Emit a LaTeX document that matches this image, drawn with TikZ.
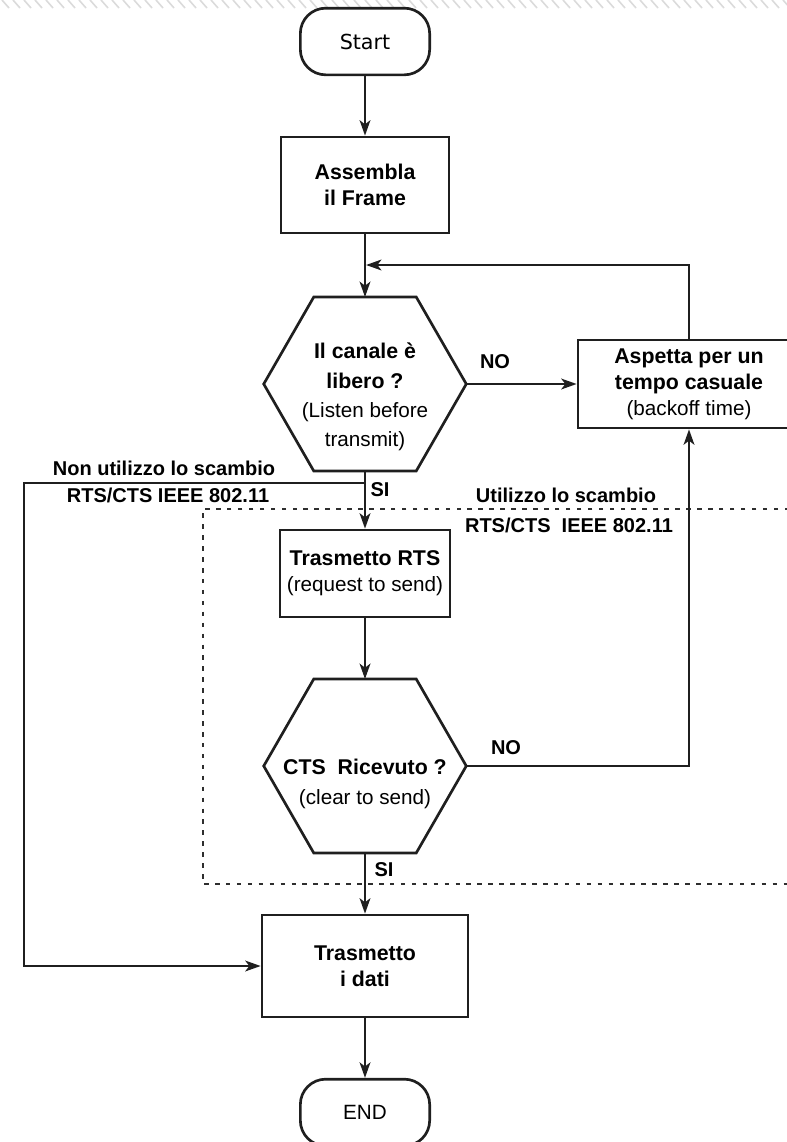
\documentclass[tikz,border=0pt]{standalone}
\usepackage{fontspec}
\setmainfont{Liberation Sans}
\newfontfamily\startfont{DejaVu Sans}
\usetikzlibrary{arrows.meta,calc}
\newcommand\subtxt[1]{{\mdseries\fontsize{15.5}{20}\selectfont #1}}
\tikzset{
  stroke/.style={line width=2pt, draw=black!88},
  flow/.style={stroke, -{Stealth[length=11.5pt,width=8pt,inset=3pt]}},
  terminal/.style={stroke, rounded corners=19pt, minimum width=97pt,
    minimum height=50pt, inner sep=0pt, font=\fontsize{15.5}{18}\selectfont},
  procbox/.style={stroke, inner sep=0pt, align=center,
    font=\bfseries\fontsize{16}{19.5}\selectfont},
  hexframe/.style={inner sep=0pt, minimum width=151.5pt, minimum height=130pt},
  hextext/.style={align=center, font=\bfseries\fontsize{16}{22}\selectfont},
  tag/.style={font=\bfseries\fontsize{15}{18}\selectfont},
  dotline/.style={line width=2.2pt, draw=black!82, dash pattern=on 3.4pt off 4.8pt},
  hatch/.style={line width=1.2pt, draw=black!14}
}
\begin{document}
\begin{tikzpicture}[x=0.75pt, y=-0.75pt]
\useasboundingbox (0,0) rectangle (787,1142);
\clip (0,0) rectangle (787,1142);

% faint hatched strip along the top edge
\foreach \i in {-20,-9,...,800} \draw[hatch] (\i,0) -- (\i+7,8);

% nodes
\node[terminal] (start) at (365,41.5) {\startfont Start};
\node[procbox, minimum width=126pt, minimum height=72pt] (asm) at (365,185)
  {Assembla\\il Frame};

\node[hexframe] (h1) at (365,384) {};
\draw[stroke] (h1.west) -- ([xshift=37.5pt]h1.north west) -- ([xshift=-37.5pt]h1.north east)
  -- (h1.east) -- ([xshift=-37.5pt]h1.south east) -- ([xshift=37.5pt]h1.south west) -- cycle;
\node[hextext] (h1t) at (365,397)
  {Il canale \`e\\libero ?\\\subtxt{(Listen before}\\\subtxt{transmit)}};

\node[procbox, minimum width=166.5pt, minimum height=66pt] (wait) at (689,384)
  {Aspetta per un\\tempo casuale\\\subtxt{(backoff time)}};

\node[procbox, minimum width=127.5pt, minimum height=65.25pt] (rts) at (365,573.5)
  {Trasmetto RTS\\\subtxt{(request to send)}};

\node[hexframe] (h2) at (365,766) {};
\draw[stroke] (h2.west) -- ([xshift=37.5pt]h2.north west) -- ([xshift=-37.5pt]h2.north east)
  -- (h2.east) -- ([xshift=-37.5pt]h2.south east) -- ([xshift=37.5pt]h2.south west) -- cycle;
\node[hextext] (h2t) at (365,784)
  {CTS\ \ Ricevuto ?\\\subtxt{(clear to send)}};

\node[procbox, minimum width=154.5pt, minimum height=76.5pt] (trx) at (365,966)
  {Trasmetto\\i dati};
\node[terminal] (end) at (365,1112.5) {END};

% dotted region of the RTS/CTS exchange
\draw[dotline] (800,509) -- (203,509) -- (203,884) -- (800,884);

% helper points
\coordinate (loopin) at (366,265);
\coordinate (split) at (365,483);
\coordinate (lcorner) at (24,483);

% connectors
\draw[flow] (start.south) -- (asm.north);
\draw[flow] (asm.south) -- (h1.north);
\draw[flow] (h1.east) -- (wait.west);
\draw[flow] (wait.north) |- (loopin);
\draw[flow] (h1.south) -- (rts.north);
\draw[flow] (split) -- (lcorner) |- (trx.west);
\draw[flow] (rts.south) -- (h2.north);
\draw[flow] (h2.east) -| (wait.south);
\draw[flow] (h2.south) -- (trx.north);
\draw[flow] (trx.south) -- (end.north);

% labels
\node[tag] (no1) at (495,362) {NO};
\node[tag] (si1) at (380,490) {SI};
\node[tag] (no2) at (506,748) {NO};
\node[tag] (si2) at (384,870) {SI};
\node[tag] (nouse1) at (164,468) {Non utilizzo lo scambio};
\node[tag] (nouse2) at (168,495) {RTS/CTS IEEE 802.11};
\node[tag] (use1) at (566,495) {Utilizzo lo scambio};
\node[tag] (use2) at (569,525) {RTS/CTS\ \ IEEE 802.11};
\end{tikzpicture}
\end{document}
